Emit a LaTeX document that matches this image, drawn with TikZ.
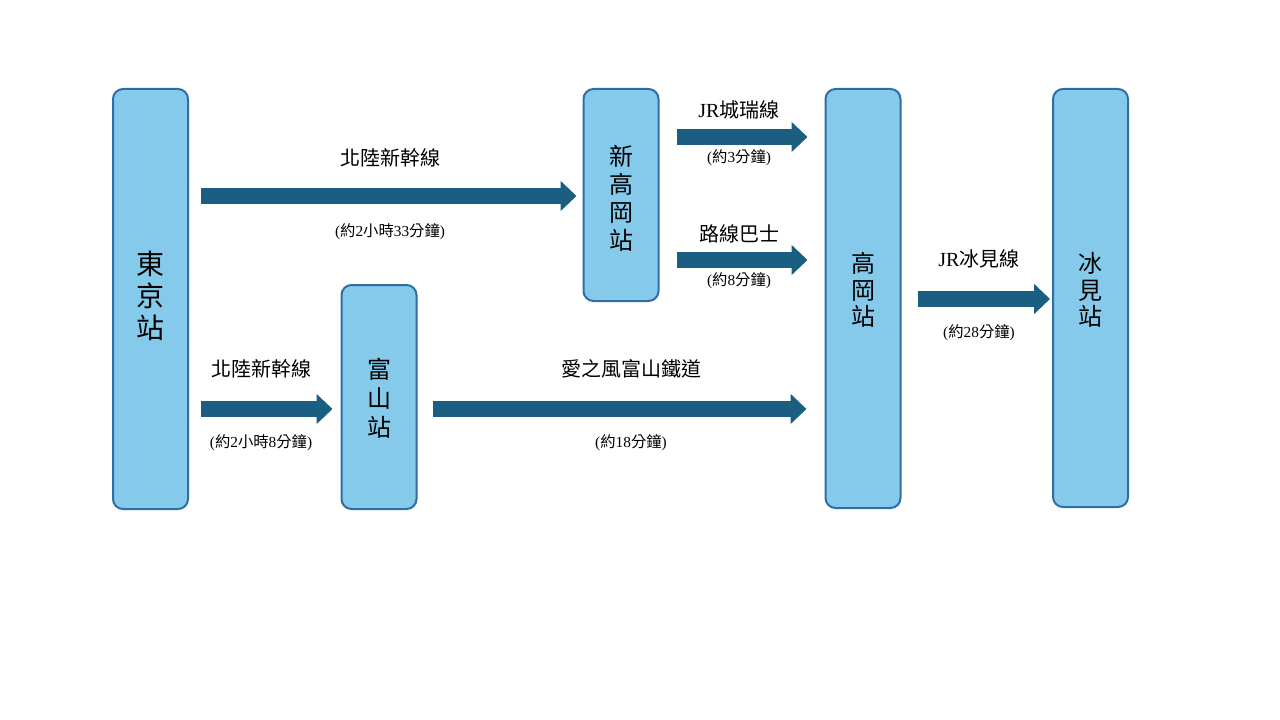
\documentclass[tikz,border=0pt]{standalone}
\usepackage{fontspec}
\setmainfont{Liberation Serif}
\newfontfamily\cjk{Noto Sans CJK TC}
\usetikzlibrary{arrows.meta}
\definecolor{boxfill}{RGB}{133,202,235}
\definecolor{boxdraw}{RGB}{46,110,165}
\definecolor{arrowc}{RGB}{26,95,130}
\begin{document}
\begin{tikzpicture}[x=0.75pt,y=-0.75pt,
  station/.style={draw=boxdraw, fill=boxfill, line width=1.5pt, rounded corners=7.5pt,
    minimum width=56.25pt, inner sep=0pt},
  sttext/.style={align=center, inner sep=0pt, font=\cjk\fontsize{18pt}{21pt}\selectfont},
  flow/.style={draw=arrowc, line width=11.5pt, -{Triangle[length=12pt 0 0, width=22pt 0 0]}},
  lab/.style={font=\cjk\fontsize{15pt}{18pt}\selectfont, inner sep=0pt},
  tlab/.style={font=\fontsize{11.5pt}{13pt}\selectfont, inner sep=0pt}]
\useasboundingbox (0,0) rectangle (1280,720);
% stations
\node[station, minimum height=315pt] (tokyo) at (150.5,299) {};
\node[station, minimum height=159pt] (shin) at (621,195) {};
\node[station, minimum height=168pt] (toyama) at (379,397) {};
\node[station, minimum height=314.25pt] (kao) at (863,298.5) {};
\node[station, minimum height=313.5pt] (himi) at (1090.5,298) {};
% station names
\node[sttext, font=\cjk\fontsize{21pt}{24pt}\selectfont] (tokyot) at (150.5,296) {東\\京\\站};
\node[sttext] (shint) at (621,198.5) {新\\高\\岡\\站};
\node[sttext, font=\cjk\fontsize{18pt}{21.75pt}\selectfont] (toyamat) at (379,398) {富\\山\\站};
\node[sttext, font=\cjk\fontsize{18pt}{20pt}\selectfont] (kaot) at (863,290) {高\\岡\\站};
\node[sttext, font=\cjk\fontsize{18pt}{20pt}\selectfont] (himit) at (1090.5,290) {冰\\見\\站};
% arrows
\draw[flow, shorten <=9pt, shorten >=4.5pt] (tokyo.east |- 0,196) -- (shin.west |- 0,196);
\draw[flow, shorten <=12.75pt, shorten >=12.75pt] (shin.east |- 0,137) -- (kao.west |- 0,137);
\draw[flow, shorten <=12.75pt, shorten >=12.75pt] (shin.east |- 0,260) -- (kao.west |- 0,260);
\draw[flow, shorten <=12pt, shorten >=1.5pt] (kao.east |- 0,299) -- (himi.west |- 0,299);
\draw[flow, shorten <=9pt, shorten >=6pt] (tokyo.east |- 0,409) -- (toyama.west |- 0,409);
\draw[flow, shorten <=11.25pt, shorten >=13.5pt] (toyama.east |- 0,409) -- (kao.west |- 0,409);
% labels
\node[lab] (l1) at (390,158) {北陸新幹線};
\node[tlab] (t1) at (390,232) {({\cjk 約}2{\cjk 小時}33{\cjk 分鐘})};
\node[lab] (l2) at (739,110) {{\rmfamily JR}城瑞線};
\node[tlab] (t2) at (739,158) {({\cjk 約}3{\cjk 分鐘})};
\node[lab] (l3) at (739,234) {路線巴士};
\node[tlab] (t3) at (739,281) {({\cjk 約}8{\cjk 分鐘})};
\node[lab] (l4) at (979,259) {{\rmfamily JR}冰見線};
\node[tlab] (t4) at (979,333) {({\cjk 約}28{\cjk 分鐘})};
\node[lab] (l5) at (261,369) {北陸新幹線};
\node[tlab] (t5) at (261,443) {({\cjk 約}2{\cjk 小時}8{\cjk 分鐘})};
\node[lab] (l6) at (631,369) {愛之風富山鐵道};
\node[tlab] (t6) at (631,443) {({\cjk 約}18{\cjk 分鐘})};
\end{tikzpicture}
\end{document}
